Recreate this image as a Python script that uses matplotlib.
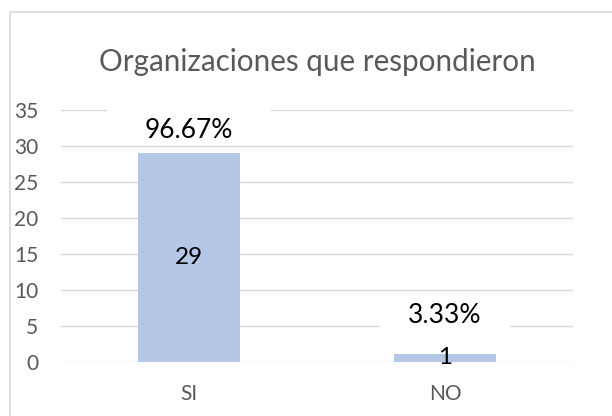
import matplotlib
matplotlib.use("Agg")
import matplotlib.pyplot as plt
from matplotlib.patches import Rectangle

categories = ["SI", "NO"]
counts = [29, 1]
percent_labels = ["96.67%", "3.33%"]
yticks = [0, 5, 10, 15, 20, 25, 30, 35]

BAR = "#B4C7E7"
GRID = "#D9D9D9"
GREY = "#595959"
PX = 0.72  # points per pixel at dpi 100

plt.rcParams["font.family"] = ["Lato", "DejaVu Sans"]

fig = plt.figure(figsize=(6.12, 4.16), dpi=100)
# outer chart frame (runs past the right/bottom edge like the crop)
fig.patches.append(Rectangle((10 / 612, -0.2), 1.2, 1.2 - 12 / 416,
                             transform=fig.transFigure, fill=False,
                             edgecolor=GRID, lw=1.2))
ax = fig.add_axes([61 / 612, (416 - 361.5) / 416, 512 / 612, 251.5 / 416])

x = list(range(len(categories)))
ax.bar(x, counts, width=0.4, color=BAR, zorder=2)
ax.set_xlim(-0.5, len(categories) - 0.5)
ax.set_ylim(0, 35)
ax.set_yticks(yticks)
ax.set_xticks(x, categories)
ax.grid(axis="y", color=GRID, lw=1.0, zorder=0)
for s in ax.spines.values():
    s.set_visible(False)
ax.tick_params(axis="both", length=0, colors=GREY, labelsize=15)
ax.tick_params(axis="y", pad=16.5)
ax.tick_params(axis="x", pad=16)

# values in the middle of the bars
for xi, c in zip(x, counts):
    ax.text(xi, c / 2, str(c), ha="center", va="center", fontsize=17.5,
            color="black", zorder=4)

# percentage labels above bars; white label boxes cut the gridlines
label_off = [23, 39]   # px above bar top
box_off = [29, 39]
box_em = [9, 7]
for xi, c, lab, lo, bo, em in zip(x, counts, percent_labels, label_off,
                                  box_off, box_em):
    ax.annotate("\u2003" * em, (xi, c), xytext=(0, bo * PX),
                textcoords="offset points", ha="center", va="center",
                fontsize=16.5, zorder=3,
                bbox=dict(boxstyle="square,pad=0.2", fc="white", ec="none"))
    ax.annotate(lab, (xi, c), xytext=(0, lo * PX),
                textcoords="offset points", ha="center", va="center",
                fontsize=19, color="black", zorder=4)

fig.text(317 / 612, 1 - 62 / 416, "Organizaciones que respondieron",
         ha="center", va="center", fontsize=21.3, color=GREY)

fig.savefig("out.png", dpi=100)
